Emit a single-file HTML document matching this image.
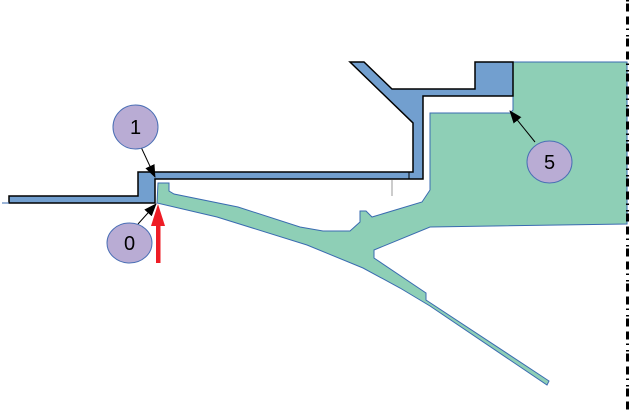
<!DOCTYPE html>
<html><head><meta charset="utf-8"><style>
html,body{margin:0;padding:0;background:#fff;}
svg{display:block;}
text{font-family:"Liberation Sans",sans-serif;}
</style></head><body>
<svg width="630" height="413" viewBox="0 0 630 413" xmlns="http://www.w3.org/2000/svg">
<defs>
<marker id="ah" markerWidth="13" markerHeight="10" refX="12" refY="5" orient="auto" markerUnits="userSpaceOnUse">
<path d="M0,0 L13,5 L0,10 z" fill="#000"/>
</marker>
</defs>
<!-- green body -->
<path d="M158,183 L169,183 L169,191 L174,194 L238,207 L300,227 L323,231 L350,231 L360,222 L360,211 L366,211 L372,217 L422,202 L428,193 L430,190 L430,113 L510,113 L513,110 L513,62 L627,62 L627,224 L430,227 L374,250 L374,258 L426,293 L426,300 L549,381 L547,385 L430,306 L400,288 L363,268 L307,245 L217,217 L157,203 Z" fill="#8ecfb6" stroke="#3a6bb0" stroke-width="1"/>
<!-- blue body -->
<path d="M350,62 L364,62 L392,89 L475,89 L475,62 L513,62 L513,96 L423,96 L423,179 L155,179 L155,203 L9,203 L9,196 L138,196 L138,172 L413,172 L413,123 Z" fill="#729fcf" stroke="#000" stroke-width="1.5" stroke-linejoin="miter"/>
<line x1="409" y1="172" x2="409" y2="179" stroke="#000" stroke-width="1"/>
<line x1="2" y1="203" x2="9" y2="203" stroke="#3a6bb0" stroke-width="1"/>
<line x1="392" y1="180" x2="392" y2="196" stroke="#999" stroke-width="1"/>
<!-- dashed axis -->
<line x1="627.5" y1="0" x2="627.5" y2="413" stroke="#000" stroke-width="3" stroke-dasharray="1.5 2 8 5 8 4 1.5 5"/>
<!-- arrows -->
<line x1="141" y1="147" x2="155" y2="177" stroke="#000" stroke-width="1" marker-end="url(#ah)"/>
<line x1="138" y1="224" x2="156" y2="204" stroke="#000" stroke-width="1" marker-end="url(#ah)"/>
<line x1="535" y1="142" x2="510" y2="111" stroke="#000" stroke-width="1" marker-end="url(#ah)"/>
<!-- red arrow -->
<rect x="156" y="224" width="4.5" height="39" fill="#ee1c25"/>
<path d="M158,204 L151,226 L165,226 Z" fill="#ee1c25"/>
<!-- circles -->
<ellipse cx="135.5" cy="127" rx="22.5" ry="22" fill="#b9acd4" stroke="#4a6fb5" stroke-width="1"/>
<text x="135.5" y="134" font-size="20" text-anchor="middle" fill="#000">1</text>
<ellipse cx="129.5" cy="243" rx="22.5" ry="20" fill="#b9acd4" stroke="#4a6fb5" stroke-width="1"/>
<text x="129.5" y="250" font-size="20" text-anchor="middle" fill="#000">0</text>
<ellipse cx="549.5" cy="162" rx="22.5" ry="21" fill="#b9acd4" stroke="#4a6fb5" stroke-width="1"/>
<text x="549.5" y="169" font-size="20" text-anchor="middle" fill="#000">5</text>
</svg>
</body></html>
